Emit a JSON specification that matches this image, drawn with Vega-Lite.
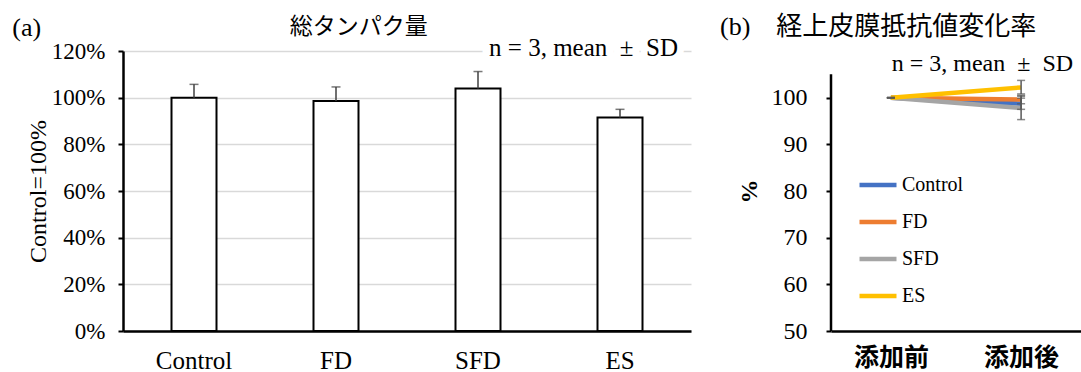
{
  "$schema": "https://vega.github.io/schema/vega-lite/v6.json",
  "background": "white",
  "padding": {"left": 12, "top": 14, "right": 0, "bottom": 0},
  "title": {"text": "(a)", "anchor": "start", "frame": "bounds", "font": "Liberation Serif", "fontSize": 26, "fontWeight": "normal", "color": "black", "offset": -27, "dx": -14},
  "datasets": {
    "bars": [
      {"group": "Control", "mean": 100, "upper": 105.7},
      {"group": "FD", "mean": 98.6, "upper": 104.6},
      {"group": "SFD", "mean": 103.9, "upper": 111.2},
      {"group": "ES", "mean": 91.5, "upper": 95.0}
    ],
    "lines": [
      {"series": "Control", "time": "添加前", "value": 100},
      {"series": "Control", "time": "添加後", "value": 98.7},
      {"series": "FD", "time": "添加前", "value": 100},
      {"series": "FD", "time": "添加後", "value": 99.6},
      {"series": "SFD", "time": "添加前", "value": 100},
      {"series": "SFD", "time": "添加後", "value": 97.8},
      {"series": "ES", "time": "添加前", "value": 100},
      {"series": "ES", "time": "添加後", "value": 102.2}
    ],
    "errs": [
      {"series": "Control", "time": "添加前", "lo": 100, "hi": 100},
      {"series": "FD", "time": "添加前", "lo": 100, "hi": 100},
      {"series": "SFD", "time": "添加前", "lo": 100, "hi": 100},
      {"series": "ES", "time": "添加前", "lo": 100, "hi": 100},
      {"series": "Control", "time": "添加後", "lo": 97.5, "hi": 99.9},
      {"series": "FD", "time": "添加後", "lo": 98.7, "hi": 100.5},
      {"series": "SFD", "time": "添加後", "lo": 95.3, "hi": 100.3},
      {"series": "ES", "time": "添加後", "lo": 100.8, "hi": 103.7}
    ]
  },
  "spacing": 29,
  "resolve": {"scale": {"color": "independent"}, "legend": {"color": "independent"}},
  "hconcat": [
    {
      "width": 568,
      "height": 280,
      "title": {"text": "総タンパク量", "anchor": "middle", "frame": "bounds", "font": "Noto Sans CJK JP", "fontSize": 23, "fontWeight": "normal", "color": "black", "offset": -3},
      "encoding": {
        "x": {
          "field": "group", "type": "nominal",
          "scale": {"domain": ["Control", "FD", "SFD", "ES"], "paddingInner": 0, "paddingOuter": 0},
          "axis": {"title": null, "labelAngle": 0, "ticks": false, "labelFont": "Liberation Serif", "labelFontSize": 25, "labelColor": "black", "labelPadding": 17, "domainColor": "black", "domainWidth": 2.5}
        }
      },
      "layer": [
        {
          "data": {"name": "bars"},
          "mark": {"type": "bar", "size": 45, "fill": "white", "stroke": "black", "strokeWidth": 2},
          "encoding": {
            "y": {
              "field": "mean", "type": "quantitative",
              "scale": {"domain": [0, 120], "nice": false},
              "axis": {
                "values": [0, 20, 40, 60, 80, 100, 120], "grid": true, "gridColor": "#d9d9d9", "gridWidth": 1.5,
                "domainColor": "black", "domainWidth": 2.5, "tickColor": "black", "tickWidth": 2, "tickSize": 5,
                "labelExpr": "datum.value + '%'", "labelFont": "Liberation Serif", "labelFontSize": 23, "labelColor": "black", "labelPadding": 13,
                "title": "Control=100%", "titleFont": "Liberation Serif", "titleFontSize": 24, "titleFontWeight": "normal", "titleColor": "black", "titlePadding": 1
              }
            }
          }
        },
        {
          "data": {"name": "bars"},
          "mark": {"type": "rule", "color": "#404040", "strokeWidth": 1.5},
          "encoding": {
            "y": {"field": "mean", "type": "quantitative"},
            "y2": {"field": "upper"}
          }
        },
        {
          "data": {"name": "bars"},
          "mark": {"type": "tick", "color": "#404040", "size": 9, "thickness": 1.5},
          "encoding": {
            "y": {"field": "upper", "type": "quantitative"}
          }
        },
        {
          "data": {"values": [{"group": "ES", "y": 120, "label": "n = 3, mean\u00a0\u00a0±\u00a0\u00a0SD"}]},
          "mark": {"type": "text", "font": "Liberation Serif", "fontSize": 25, "align": "right", "baseline": "middle", "dx": 58, "dy": -3, "color": "white", "stroke": "white", "strokeWidth": 14},
          "encoding": {
            "y": {"field": "y", "type": "quantitative"},
            "text": {"field": "label"}
          }
        },
        {
          "data": {"values": [{"group": "ES", "y": 120, "label": "n = 3, mean\u00a0\u00a0±\u00a0\u00a0SD"}]},
          "mark": {"type": "text", "font": "Liberation Serif", "fontSize": 25, "align": "right", "baseline": "middle", "dx": 58, "dy": -3, "color": "black"},
          "encoding": {
            "y": {"field": "y", "type": "quantitative"},
            "text": {"field": "label"}
          }
        }
      ]
    },
    {
      "width": 250,
      "height": 280,
      "title": {"text": "(b)\u3000経上皮膜抵抗値変化率", "anchor": "start", "frame": "group", "font": "Liberation Serif, Noto Sans CJK JP", "fontSize": 26, "fontWeight": "normal", "color": "black", "offset": 11, "dx": -111},
      "resolve": {"scale": {"x": "independent"}},
      "layer": [
        {
          "data": {"name": "lines"},
          "mark": {"type": "line", "strokeWidth": 4.5},
          "encoding": {
            "x": {
              "field": "time", "type": "nominal",
              "scale": {"type": "point", "domain": ["添加前", "添加後"], "padding": 0.46},
              "axis": {"title": null, "labelAngle": 0, "ticks": false, "labelFont": "Noto Sans CJK JP", "labelFontSize": 25, "labelFontWeight": "bold", "labelColor": "black", "labelPadding": 14, "domainColor": "black", "domainWidth": 2.5}
            },
            "y": {
              "field": "value", "type": "quantitative",
              "scale": {"domain": [50, 110], "nice": false, "zero": false},
              "axis": {
                "values": [50, 60, 70, 80, 90, 100], "grid": false, "domain": false,
                "tickColor": "black", "tickWidth": 2, "tickSize": 5,
                "labelFont": "Liberation Serif", "labelFontSize": 24, "labelColor": "black", "labelPadding": 19,
                "title": "%", "titleFont": "Liberation Serif", "titleFontSize": 24, "titleFontWeight": "bold", "titleColor": "black", "titlePadding": 10
              }
            },
            "color": {
              "field": "series", "type": "nominal",
              "scale": {"domain": ["Control", "FD", "SFD", "ES"], "range": ["#4472C4", "#ED7D31", "#A5A5A5", "#FFC000"]},
              "legend": {
                "title": null, "orient": "none", "legendX": 26, "legendY": 113,
                "symbolType": "stroke", "symbolSize": 1369, "symbolStrokeWidth": 4.5,
                "labelFont": "Liberation Serif", "labelFontSize": 20, "labelColor": "black", "labelOffset": 3, "rowPadding": 6
              }
            },
            "order": {"field": "time"}
          }
        },
        {
          "data": {"values": [{"x": 0, "y0": 50, "y1": 105}]},
          "mark": {"type": "rule", "color": "black", "strokeWidth": 2.5},
          "encoding": {
            "x": {"field": "x", "type": "quantitative", "scale": {"domain": [0, 1]}, "axis": null},
            "y": {"field": "y0", "type": "quantitative"},
            "y2": {"field": "y1"}
          }
        },
        {
          "data": {"name": "errs"},
          "mark": {"type": "rule", "color": "#595959", "strokeWidth": 1.5},
          "encoding": {
            "x": {"field": "time", "type": "nominal", "scale": {"type": "point", "domain": ["添加前", "添加後"], "padding": 0.46}, "axis": null},
            "y": {"field": "lo", "type": "quantitative"},
            "y2": {"field": "hi"}
          }
        },
        {
          "data": {"name": "errs"},
          "mark": {"type": "tick", "color": "#595959", "size": 8, "thickness": 1.5},
          "encoding": {
            "x": {"field": "time", "type": "nominal", "scale": {"type": "point", "domain": ["添加前", "添加後"], "padding": 0.46}, "axis": null},
            "y": {"field": "hi", "type": "quantitative"}
          }
        },
        {
          "data": {"name": "errs"},
          "mark": {"type": "tick", "color": "#595959", "size": 8, "thickness": 1.5},
          "encoding": {
            "x": {"field": "time", "type": "nominal", "scale": {"type": "point", "domain": ["添加前", "添加後"], "padding": 0.46}, "axis": null},
            "y": {"field": "lo", "type": "quantitative"}
          }
        },
        {
          "data": {"values": [{"time": "添加後", "y": 105, "label": "n = 3, mean\u00a0\u00a0±\u00a0\u00a0SD"}]},
          "mark": {"type": "text", "font": "Liberation Serif", "fontSize": 24, "align": "right", "baseline": "middle", "dx": 52, "dy": -10, "color": "black"},
          "encoding": {
            "x": {"field": "time", "type": "nominal", "scale": {"type": "point", "domain": ["添加前", "添加後"], "padding": 0.46}, "axis": null},
            "y": {"field": "y", "type": "quantitative"},
            "text": {"field": "label"}
          }
        }
      ]
    }
  ],
  "config": {
    "view": {"stroke": null}
  }
}
